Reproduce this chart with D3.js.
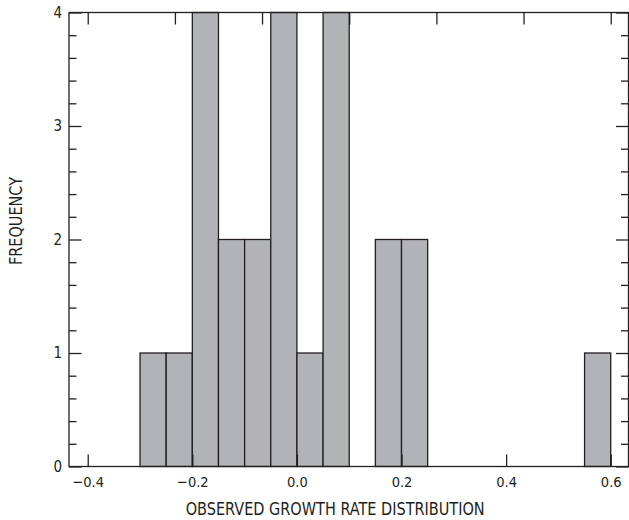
<!DOCTYPE html>
<html>
<head>
<meta charset="utf-8">
<script src="https://cdn.jsdelivr.net/npm/d3@7"></script>
<style>
  html, body { margin: 0; padding: 0; background: #fff; }
  svg text { font-family: "Liberation Sans Narrow", "DejaVu Sans Condensed", "Roboto", sans-serif; font-stretch: condensed; fill: #231f20; }
</style>
</head>
<body>
<svg id="chart" width="629" height="520"></svg>
<script>
// Histogram bins (lower edge, upper edge) and frequencies
const binStarts = [-0.30, -0.25, -0.20, -0.15, -0.10, -0.05, 0.00, 0.05, 0.10, 0.15, 0.20, 0.25, 0.30, 0.35, 0.40, 0.45, 0.50, 0.55];
const binEnds   = [-0.25, -0.20, -0.15, -0.10, -0.05, 0.00, 0.05, 0.10, 0.15, 0.20, 0.25, 0.30, 0.35, 0.40, 0.45, 0.50, 0.55, 0.60];
const frequencies = [1, 1, 4, 2, 2, 4, 1, 4, 0, 2, 2, 0, 0, 0, 0, 0, 0, 1];

const xTickValues = [-0.4, -0.2, 0.0, 0.2, 0.4, 0.6];
const xTickLabels = ["\u22120.4", "\u22120.2", "0.0", "0.2", "0.4", "0.6"];
const xTopTickValues = [-0.4, -0.2333, -0.0667, 0.1, 0.2667, 0.4333, 0.6];
const yTickValues = [0, 1, 2, 3, 4];
const yMinorTickValues = [0.2, 0.4, 0.6, 0.8, 1.2, 1.4, 1.6, 1.8, 2.2, 2.4, 2.6, 2.8, 3.2, 3.4, 3.6, 3.8];
const xTitle = "OBSERVED GROWTH RATE DISTRIBUTION";
const yTitle = "FREQUENCY";

const svg = d3.select("#chart");
const mLeft = 69, mRight = 628.5, mTop = 12.5, mBottom = 466.5;
const ink = "#231f20";

const x = d3.scaleLinear().domain([-0.4358, 0.634]).range([mLeft, mRight]);
const y = d3.scaleLinear().domain([0, 4]).range([mBottom, mTop]);

const data = binStarts.map((s, i) => ({ x0: s, x1: binEnds[i], n: frequencies[i] }));

// Bars
svg.append("g").selectAll("rect")
  .data(data.filter(d => d.n > 0))
  .join("rect")
  .attr("x", d => x(d.x0))
  .attr("y", d => y(d.n))
  .attr("width", d => x(d.x1) - x(d.x0))
  .attr("height", d => y(0) - y(d.n))
  .attr("fill", "#b2b3b7")
  .attr("stroke", ink)
  .attr("stroke-width", 1.3);

function styleAxis(g) {
  g.select(".domain").remove();
  g.selectAll(".tick line").attr("stroke", ink).attr("stroke-width", 1.3);
  g.selectAll(".tick text").attr("font-size", 14).style("fill", ink);
}

// Bottom axis (ticks inward)
svg.append("g")
  .attr("transform", `translate(0,${mBottom})`)
  .call(d3.axisBottom(x).tickValues(xTickValues).tickSize(-12).tickPadding(10)
    .tickFormat((d, i) => xTickLabels[i]))
  .call(styleAxis)
  .call(g => g.selectAll(".tick text").attr("font-size", 14.5));

// Top axis (ticks inward, no labels)
svg.append("g")
  .attr("transform", `translate(0,${mTop})`)
  .call(d3.axisTop(x).tickValues(xTopTickValues).tickSize(-12).tickFormat(""))
  .call(styleAxis);

// Left axis major + minor
svg.append("g")
  .attr("transform", `translate(${mLeft},0)`)
  .call(d3.axisLeft(y).tickValues(yTickValues).tickSize(-12.5).tickPadding(7).tickFormat(d3.format("d")))
  .call(styleAxis)
  .call(g => g.selectAll(".tick text").attr("font-size", 15));
svg.append("g")
  .attr("transform", `translate(${mLeft},0)`)
  .call(d3.axisLeft(y).tickValues(yMinorTickValues).tickSize(-7.5).tickFormat(""))
  .call(styleAxis);

// Right axis major + minor
svg.append("g")
  .attr("transform", `translate(${mRight},0)`)
  .call(d3.axisRight(y).tickValues(yTickValues).tickSize(-12.5).tickFormat(""))
  .call(styleAxis);
svg.append("g")
  .attr("transform", `translate(${mRight},0)`)
  .call(d3.axisRight(y).tickValues(yMinorTickValues).tickSize(-7.5).tickFormat(""))
  .call(styleAxis);

// Frame
svg.append("rect")
  .attr("x", mLeft).attr("y", mTop)
  .attr("width", mRight - mLeft).attr("height", mBottom - mTop)
  .attr("fill", "none").attr("stroke", ink).attr("stroke-width", 1.3);

// Titles
svg.append("text")
  .attr("x", 335.2).attr("y", 514.7)
  .attr("text-anchor", "middle")
  .attr("font-size", 17.5)
  .attr("textLength", 299)
  .attr("lengthAdjust", "spacingAndGlyphs")
  .text(xTitle);

svg.append("text")
  .attr("transform", `translate(22,221) rotate(-90)`)
  .attr("text-anchor", "middle")
  .attr("font-size", 17.5)
  .attr("textLength", 88)
  .attr("lengthAdjust", "spacingAndGlyphs")
  .text(yTitle);
</script>
</body>
</html>
